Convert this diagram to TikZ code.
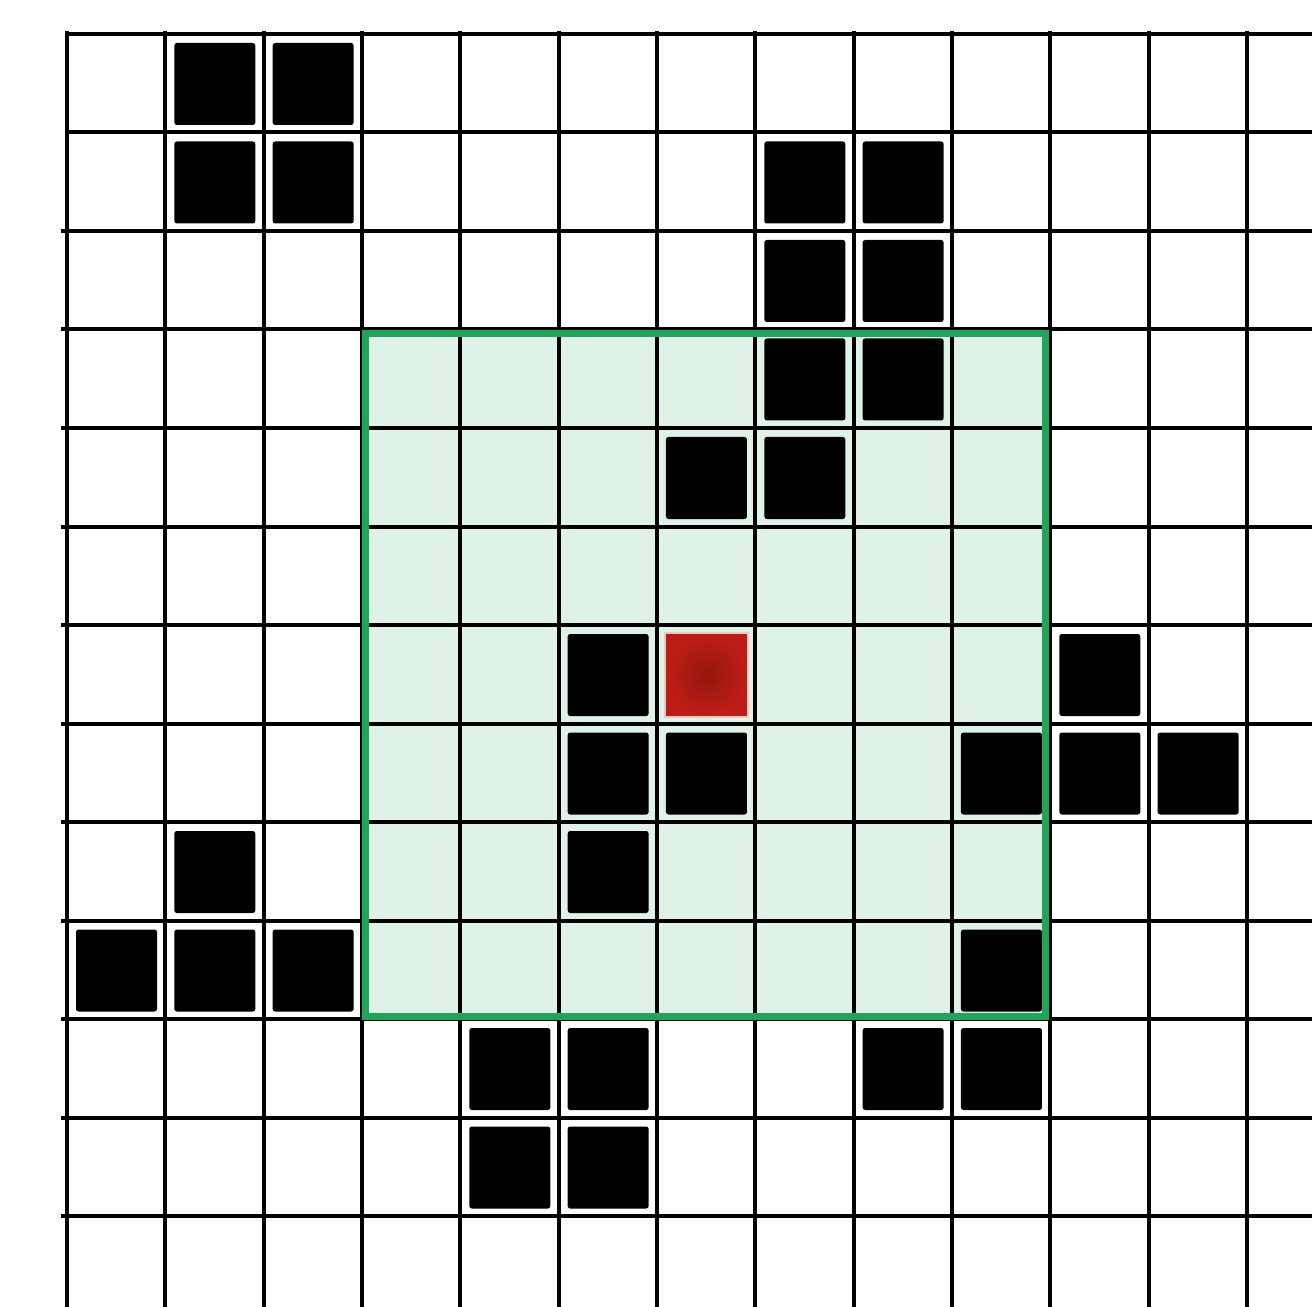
\documentclass[tikz,border=0pt]{standalone}
\definecolor{gfill}{RGB}{222,242,231}
\definecolor{gline}{RGB}{30,166,90}
\definecolor{redout}{RGB}{188,30,22}
\definecolor{redin}{RGB}{150,22,14}
\definecolor{rededge}{RGB}{245,200,190}
\begin{document}
\begin{tikzpicture}[x=0.02cm,y=-0.02cm,
  gridline/.style={line width=0.08cm,black},
  blockcell/.style={fill=black,rounded corners=0.05cm},
  window/.style={draw=gline,line width=0.14cm}]
\useasboundingbox (0,0) rectangle (1312,1307);
\fill[white] (0,0) rectangle (1312,1307);
% highlighted window fill
\fill[gfill] (362,330) rectangle (1049,1018);
% grid
\foreach \i in {0,...,12}
  \draw[gridline] ({67+98.33*\i},31) -- ({67+98.33*\i},1310);
\draw[gridline] (67,34) -- (1314,34);
\draw[gridline] (67,132.5) -- (1314,132.5);
\foreach \j in {2,...,12}
  \draw[gridline] (61,{34+98.5*\j}) -- (1314,{34+98.5*\j});
% black cells
\foreach \c/\r in {1/0,2/0,1/1,2/1,
  7/1,8/1,7/2,8/2,7/3,8/3,
  6/4,7/4,
  5/6,10/6,
  5/7,6/7,9/7,10/7,11/7,
  1/8,5/8,
  0/9,1/9,2/9,9/9,
  4/10,5/10,8/10,9/10,
  4/11,5/11}
  \fill[blockcell] ({67+98.33*\c+9},{34+98.5*\r+9}) rectangle ++(81,82);
% red centre cell
\shade[inner color=redin,outer color=redout] ({67+98.33*6+9},{34+98.5*6+9}) rectangle ++(81,82);
\draw[rededge,line width=0.03cm] ({67+98.33*6+8},{34+98.5*6+8}) rectangle ++(83,84);
% window border
\draw[window] (365,334) rectangle (1045,1016);
\end{tikzpicture}
\end{document}
